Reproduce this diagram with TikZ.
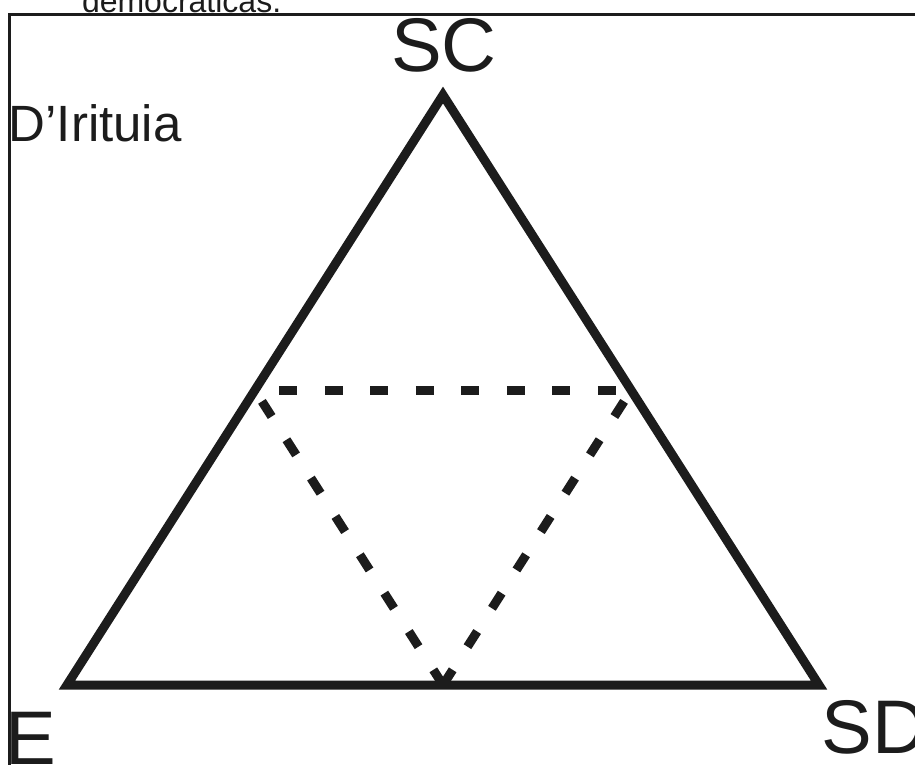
\documentclass[tikz,border=0pt]{standalone}
\usepackage{fontspec}
\setmainfont{Liberation Sans}
\definecolor{ink}{RGB}{28,28,28}
\tikzset{
  solidedge/.style={draw=ink, line width=9pt, line join=miter, miter limit=10},
  dashedge/.style={draw=ink, line width=9pt, line cap=butt, dash pattern=on 18pt off 27.5pt},
  frameline/.style={draw=ink, line width=2.7pt, line join=miter},
  biglabel/.style={inner sep=0pt, outer sep=0pt, text=ink, font=\fontsize{76}{80}\selectfont},
  midlabel/.style={inner sep=0pt, outer sep=0pt, text=ink, font=\fontsize{51}{56}\selectfont},
  smalllabel/.style={inner sep=0pt, outer sep=0pt, text=ink, font=\fontsize{32}{36}\selectfont}
}
\begin{document}
\begin{tikzpicture}[x=1pt,y=-1pt]
\useasboundingbox (0,0) rectangle (915,764);
\clip (0,0) rectangle (915,764);
\fill[white] (0,0) rectangle (915,764);

% frame
\coordinate (fbl) at (9.5,770);
\coordinate (ftl) at (9.5,14.7);
\coordinate (ftr) at (920,14.7);
\draw[frameline] (fbl) -- (ftl) -- (ftr);

% cropped heading text
\node[smalllabel, anchor=base west] (head) at (82,12) {democráticas.};

% solid triangle
\coordinate (pE) at (67,685);
\coordinate (pSC) at (443,95);
\coordinate (pSD) at (819,685);
\draw[solidedge] (pE) -- (pSC) -- (pSD) -- cycle;

% dashed inner triangle
\coordinate (mL) at (255,390.5);
\coordinate (mR) at (631,390.5);
\coordinate (mB) at (443,685);
\draw[dashedge, dash phase=21.2pt] (mL) -- (mR);
\draw[dashedge, dash phase=32.6pt] (mL) -- (mB);
\draw[dashedge, dash phase=32.6pt] (mR) -- (mB);

% labels
\node[biglabel, anchor=base] (lSC) at (444,71.5) {SC};
\node[biglabel, anchor=base west] (lSD) at (821.6,753.5) {SD};
\node[biglabel, anchor=base west] (lE) at (5.9,764.5) {E};
\node[midlabel, anchor=base west] (lD) at (8.7,141.5) {D’Irituia};
\end{tikzpicture}
\end{document}
